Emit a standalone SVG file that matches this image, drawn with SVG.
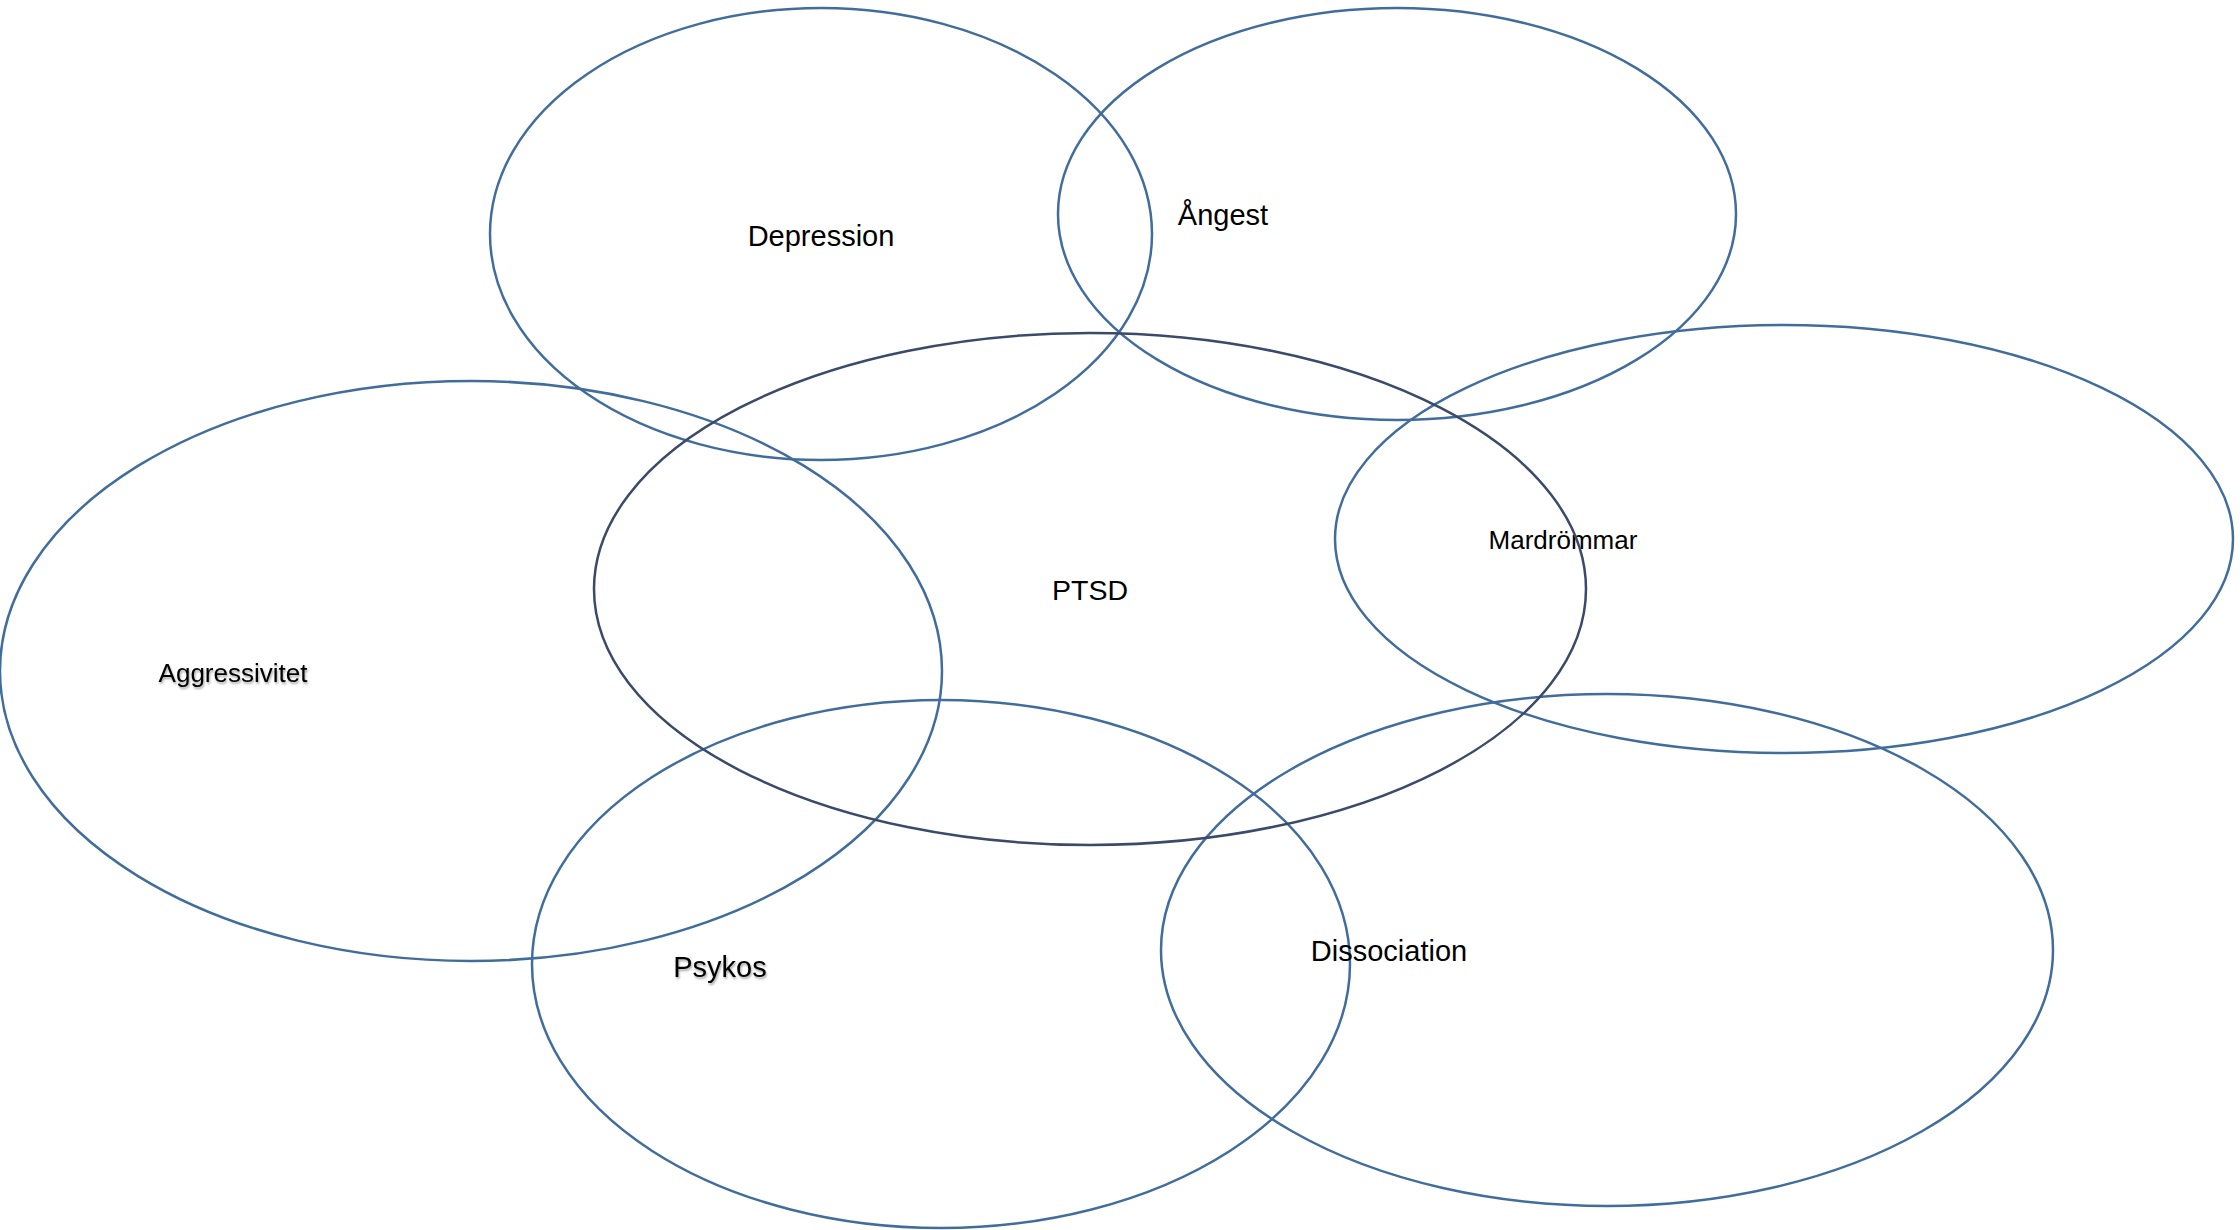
<svg xmlns="http://www.w3.org/2000/svg" width="2240" height="1230" viewBox="0 0 2240 1230">
<defs>
<style>
.e{fill:none;stroke:#416d9c;stroke-width:2.5}
.d{fill:none;stroke:#3a4a68;stroke-width:2.5}
.t{font-family:"Liberation Sans",Arial,sans-serif;fill:#000;text-anchor:middle}
.s{filter:url(#sh)}
</style>
<filter id="sh" x="-10%" y="-30%" width="120%" height="160%">
<feDropShadow dx="1" dy="2" stdDeviation="1.2" flood-color="#000" flood-opacity="0.35"/>
</filter>
</defs>
<rect width="2240" height="1230" fill="#fff"/>
<g id="depression"><ellipse class="e" cx="821" cy="234" rx="331" ry="226"/><text class="t" x="821" y="246" font-size="29">Depression</text></g>
<g id="angest"><ellipse class="e" cx="1397" cy="214" rx="339" ry="206"/><text class="t" x="1223" y="225" font-size="29">Ångest</text></g>
<g id="mardrommar"><ellipse class="e" cx="1784" cy="539" rx="449" ry="214"/><text class="t" x="1563" y="549" font-size="26">Mardrömmar</text></g>
<g id="aggressivitet"><ellipse class="e" cx="471" cy="671" rx="471" ry="290"/><text class="t s" x="233" y="682" font-size="26">Aggressivitet</text></g>
<g id="psykos"><ellipse class="e" cx="941" cy="964" rx="409" ry="264"/><text class="t s" x="720" y="977" font-size="29">Psykos</text></g>
<g id="dissociation"><ellipse class="e" cx="1607" cy="950" rx="446" ry="256"/><text class="t" x="1389" y="961" font-size="29">Dissociation</text></g>
<g id="ptsd"><ellipse class="d" cx="1090" cy="589" rx="496" ry="256"/><text class="t" x="1090" y="600" font-size="28.5">PTSD</text></g>
<g id="connectors"></g>
</svg>
